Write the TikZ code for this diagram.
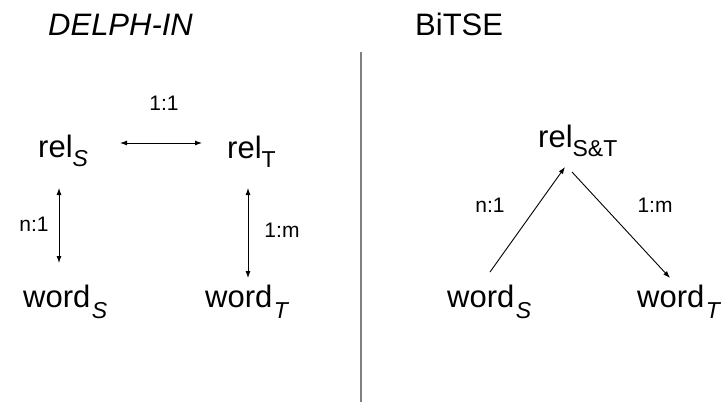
\documentclass[tikz,border=0pt]{standalone}
\usepackage{fontspec}
\setmainfont{Liberation Sans}
\usetikzlibrary{arrows.meta}
\newcommand\subx[1]{\raisebox{-9pt}{\fontsize{23}{23}\selectfont #1}}
\newcommand\subw[1]{\kern1.5pt\raisebox{-11pt}{\fontsize{23}{23}\selectfont #1}}
\tikzset{
  big/.style={font=\fontsize{31}{31}\selectfont, inner sep=0pt, anchor=base west},
  lbl/.style={font=\fontsize{21}{21}\selectfont, inner sep=0pt},
  arr/.style={-{Latex[length=7pt,width=5pt]}, line width=0.9pt},
  darr/.style={{Latex[length=7pt,width=5pt]}-{Latex[length=7pt,width=5pt]}, line width=0.9pt},
  divider/.style={draw=gray, line width=1.5pt}
}
\begin{document}
\begin{tikzpicture}[x=1pt,y=-1pt]
\useasboundingbox (0,0) rectangle (721,402);
\node[big] (h1) at (48,35) {\itshape DELPH-IN};
\node[big] (h2) at (415,35) {BiTSE};
\node[big] (relS) at (38,157) {rel\subx{\itshape S}};
\node[big] (relT) at (227,158) {rel\subx{T}};
\node[big] (wordS) at (23,307) {word\subw{\itshape S}};
\node[big] (wordT) at (205,307) {word\subw{\itshape T}};
\node[big] (relST) at (538,147) {rel\subx{S\&T}};
\node[big] (wordS2) at (447,307) {word\subw{\itshape S}};
\node[big] (wordT2) at (637,307) {word\subw{\itshape T}};
\coordinate (a1) at (120,143); \coordinate (a2) at (202,143);
\coordinate (b1) at (59,188); \coordinate (b2) at (59,263);
\coordinate (c1) at (248,188); \coordinate (c2) at (248,278);
\coordinate (d1) at (490,272); \coordinate (d2) at (565,167);
\coordinate (e1) at (572,172); \coordinate (e2) at (670,278);
\coordinate (v1) at (361,52); \coordinate (v2) at (361,402);
\draw[darr] (a1) -- (a2);
\draw[darr] (b1) -- (b2);
\draw[darr] (c1) -- (c2);
\draw[arr] (d1) -- (d2);
\draw[arr] (e1) -- (e2);
\draw[divider] (v1) -- (v2);
\node[lbl] (l1) at (164,103) {1:1};
\node[lbl] (l2) at (34,224) {n:1};
\node[lbl] (l3) at (282,230) {1:m};
\node[lbl] (l4) at (490,205) {n:1};
\node[lbl] (l5) at (655,205) {1:m};
\end{tikzpicture}
\end{document}
